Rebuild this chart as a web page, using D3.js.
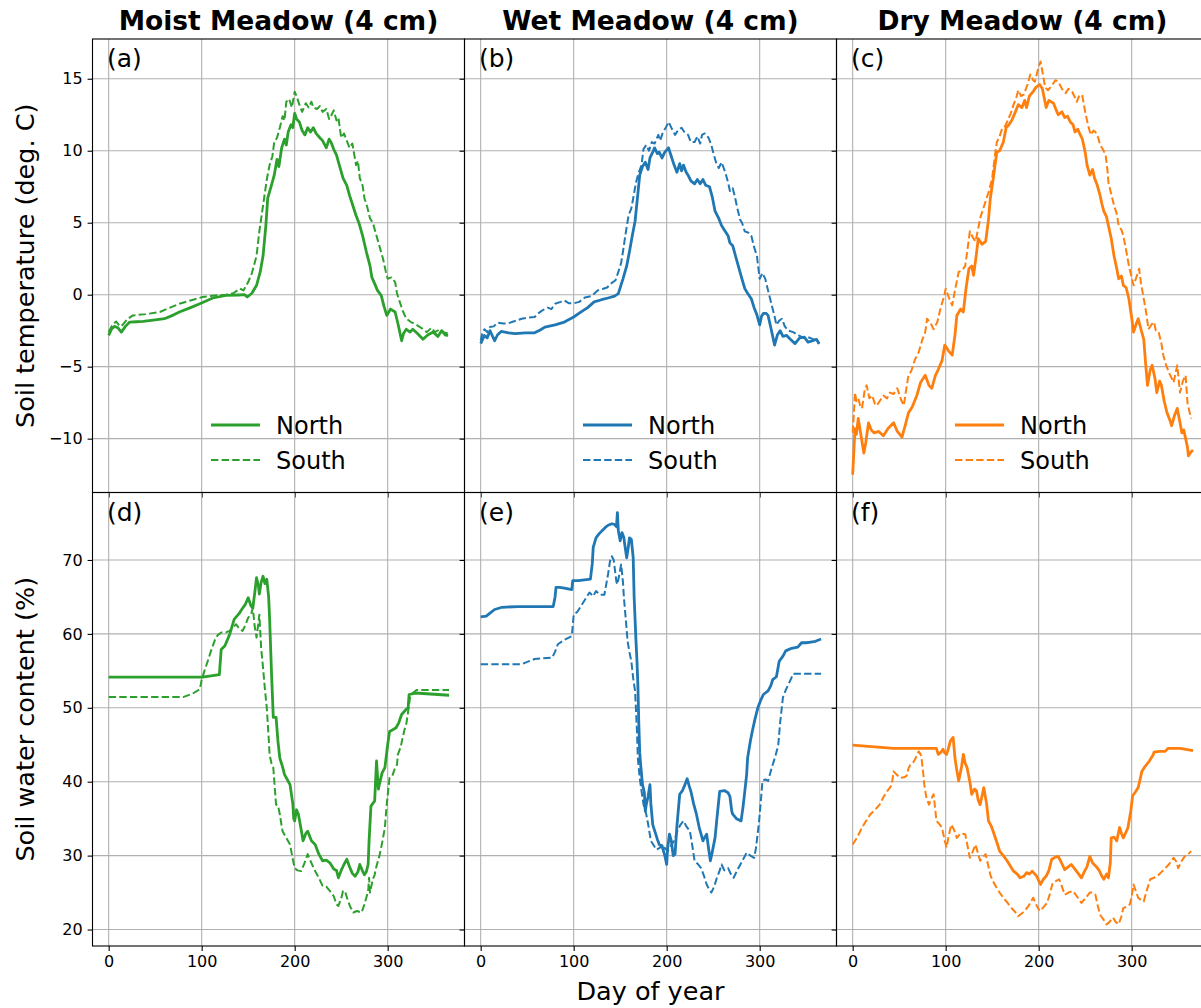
<!DOCTYPE html>
<html>
<head>
<meta charset="utf-8">
<script src="https://cdn.jsdelivr.net/npm/d3@7"></script>
<style>
  html, body { margin: 0; padding: 0; background: #fff; }
  svg { display: block; font-family: "DejaVu Sans", sans-serif; }
</style>
</head>
<body>
<svg id="chart" width="1201" height="1008"></svg>
<script>
// ---------------- DATA ----------------
const columnTitles = ["Moist Meadow (4 cm)", "Wet Meadow (4 cm)", "Dry Meadow (4 cm)"];
const seriesNames = ["North", "South"];
const panelLabels = [["(a)", "(b)", "(c)"], ["(d)", "(e)", "(f)"]];
const xTicks = [0, 100, 200, 300];
const tempTicks = [-10, -5, 0, 5, 10, 15];
const swcTicks = [20, 30, 40, 50, 60, 70];
const rowLabels = ["Soil temperature (deg. C)", "Soil water content (%)"];
const xLabel = "Day of year";

// [day, value] pairs
const moistTempNorth = [[0,-2.83],[3,-2.4],[6,-2.2],[10,-2.3],[13.6,-2.6],[18,-2.2],[22.6,-1.9],[30,-1.88],[37,-1.86],[50,-1.75],[60,-1.67],[70,-1.4],[76,-1.2],[88,-0.9],[98,-0.63],[112,-0.23],[126,-0.05],[140,-0.02],[146,0],[149,-0.16],[154,0.1],[159,0.65],[163,1.6],[166,2.7],[169,4.8],[171,6.7],[175,7.6],[178,8.3],[181,9.4],[183,8.9],[186,10.2],[189,10.8],[191,10.4],[193,11.3],[196,11.8],[198,11.6],[200,12.6],[202,12.2],[205,12.0],[208,11.4],[211,11.1],[214,11.6],[217,11.3],[220,11.6],[223,11.2],[227,10.9],[230,10.7],[234,10.2],[237,10.8],[239,10.6],[242,10.1],[245,9.7],[248,9.0],[252,8.1],[256,7.6],[259,6.9],[262,6.3],[266,5.5],[269,5.0],[273,4.1],[277,3.0],[281,2.0],[283,1.2],[286,0.77],[289,0.3],[293,-0.05],[296,-0.8],[299,-1.44],[303,-1.0],[308,-1.2],[311,-2.0],[315,-3.2],[317,-2.7],[320,-2.4],[324,-2.6],[327,-2.4],[332,-2.7],[338,-3.1],[343,-2.8],[349,-2.6],[354,-2.9],[358,-2.5],[362,-2.8],[365,-2.83]];
const moistTempSouth = [[0,-2.6],[4,-2.1],[8,-1.86],[12,-2.2],[15,-2.1],[20,-1.7],[26,-1.44],[40,-1.35],[55,-1.2],[66,-0.9],[76,-0.63],[88,-0.4],[101,-0.16],[115,-0.05],[126,0],[134,0.1],[141,0.42],[145,0.3],[150,0.88],[154,1.5],[159,2.7],[162,4.4],[166,6.2],[170,8.0],[173,9.0],[176,9.6],[178,10.6],[181,10.9],[184,11.6],[187,12.4],[189,12.1],[191,13.4],[194,13.6],[197,13.0],[200,14.1],[202,13.8],[205,13.2],[208,12.7],[212,13.3],[215,13.0],[218,13.4],[220,13.0],[224,12.9],[227,13.1],[230,12.7],[234,12.9],[237,12.2],[239,12.4],[242,12.8],[245,12.1],[247,12.3],[250,10.9],[253,11.2],[256,10.7],[259,10.2],[262,10.5],[266,9.0],[268,9.3],[270,8.1],[273,7.6],[275,6.7],[278,6.1],[281,5.3],[284,5.0],[288,4.1],[291,3.4],[295,2.5],[298,1.6],[300,1.1],[304,1.2],[308,0.88],[310,0.1],[313,-0.5],[316,-1.1],[320,-1.67],[325,-1.9],[331,-2.1],[336,-2.3],[342,-2.6],[347,-2.3],[351,-2.6],[356,-2.4],[360,-2.6],[365,-2.7]];

const wetTempNorth = [[0,-3.4],[4,-2.83],[7,-3.0],[10,-2.5],[15,-3.2],[18,-2.8],[22,-2.55],[30,-2.65],[37,-2.7],[48,-2.65],[58,-2.65],[64,-2.45],[69,-2.25],[80,-2.1],[90,-1.9],[100,-1.55],[108,-1.2],[115,-0.9],[122,-0.5],[130,-0.35],[137,-0.23],[144,-0.1],[148,0.07],[153,1.1],[157,2.0],[160,3.0],[163,4.1],[166,5.1],[169,7.0],[171,8.3],[174,8.9],[177,9.2],[180,8.7],[182,9.5],[185,9.9],[187,10.2],[190,9.8],[192,9.9],[195,9.5],[198,9.9],[202,10.2],[205,9.6],[208,9.0],[211,8.5],[214,9.1],[216,8.6],[218,9.0],[221,8.5],[223,8.3],[226,7.9],[230,7.7],[233,8.0],[236,7.7],[239,8.0],[242,7.6],[246,7.5],[249,6.8],[252,5.8],[256,5.3],[259,4.8],[262,4.5],[266,4.1],[268,3.6],[271,3.4],[274,2.7],[277,2.0],[280,1.3],[284,0.42],[287,0.1],[291,-0.28],[294,-0.9],[297,-1.4],[300,-2.1],[302,-1.5],[304,-1.3],[307,-1.3],[309,-1.44],[312,-2.3],[316,-3.5],[319,-2.8],[322,-2.5],[325,-2.9],[329,-2.83],[333,-3.1],[338,-3.4],[343,-3.0],[348,-2.95],[352,-3.3],[357,-3.2],[361,-3.1],[364,-3.4]];
const wetTempSouth = [[0,-3.2],[2,-2.6],[4,-2.4],[7,-2.6],[10,-2.25],[14,-2.2],[18,-1.95],[24,-2.0],[29,-2.0],[36,-1.85],[44,-1.67],[50,-1.6],[58,-1.55],[62,-1.3],[66,-1.1],[72,-0.9],[76,-1.0],[80,-0.63],[86,-0.5],[90,-0.4],[95,-0.6],[100,-0.6],[106,-0.5],[112,-0.2],[119,-0.1],[126,0.3],[131,0.4],[136,0.5],[140,0.77],[145,1.0],[148,1.58],[151,2.2],[153,3.0],[156,4.3],[159,5.5],[162,6.0],[164,6.7],[167,7.8],[170,8.5],[173,9.0],[175,10.1],[178,10.4],[181,10.0],[184,10.6],[187,10.5],[191,11.1],[193,10.7],[196,11.3],[199,11.6],[202,12.0],[205,11.6],[209,11.1],[212,11.4],[216,11.6],[219,11.3],[223,11.1],[226,10.6],[230,10.6],[233,11.0],[236,10.5],[238,11.1],[241,11.2],[245,10.9],[248,10.4],[250,9.9],[253,9.2],[256,8.8],[259,9.2],[263,8.5],[266,7.8],[268,7.2],[271,7.4],[273,6.9],[276,6.0],[279,5.2],[281,5.0],[284,4.4],[288,4.3],[291,4.1],[294,3.3],[297,2.7],[300,1.1],[303,1.5],[306,1.1],[309,0.3],[313,-0.74],[316,-1.5],[318,-2.1],[321,-1.8],[324,-1.67],[327,-2.2],[331,-2.5],[336,-2.6],[342,-2.83],[347,-3.0],[352,-2.95],[358,-3.1],[364,-3.4]];

const dryTempNorth = [[0,-12.5],[1.5,-10.6],[2.5,-9.3],[4,-9.7],[6,-8.6],[9,-9.8],[12,-11.0],[14,-10.3],[17,-8.9],[20,-9.4],[23,-9.6],[28,-9.5],[33,-9.8],[38,-9.3],[44,-8.9],[48,-9.5],[53,-9.9],[56,-9.2],[60,-8.2],[64,-7.8],[69,-7.0],[73,-6.1],[78,-5.6],[82,-6.3],[85,-6.5],[89,-5.6],[92,-5.2],[96,-4.6],[99,-3.5],[103,-3.9],[107,-4.2],[110,-2.8],[112,-1.44],[116,-1.0],[119,-1.2],[122,0.5],[125,1.8],[128,2.0],[130,1.35],[133,2.8],[135,3.9],[139,3.5],[143,3.7],[146,5.2],[148,6.7],[151,8.0],[155,9.9],[158,10.0],[162,10.6],[165,11.6],[168,11.8],[171,12.1],[175,12.7],[178,13.2],[182,13.0],[185,13.5],[187,13.0],[190,13.8],[194,14.1],[197,14.4],[201,14.6],[204,14.3],[208,13.0],[211,13.5],[216,13.3],[219,12.8],[221,12.5],[225,12.7],[228,12.3],[231,12.4],[234,12.0],[237,11.8],[239,11.3],[242,11.5],[244,11.2],[247,10.8],[250,9.9],[252,9.0],[255,8.3],[258,8.7],[260,8.1],[263,7.6],[266,6.9],[268,6.3],[270,5.8],[273,5.4],[275,4.8],[278,3.9],[281,2.7],[284,1.8],[286,1.1],[289,1.3],[291,0.65],[294,0.5],[297,-0.28],[300,-1.6],[302,-2.6],[305,-2.0],[307,-1.67],[310,-2.4],[313,-3.1],[315,-4.8],[317,-6.3],[320,-5.2],[322,-4.9],[325,-5.8],[327,-6.8],[330,-6.0],[332,-6.3],[335,-7.4],[338,-8.2],[341,-8.7],[343,-9.1],[346,-8.4],[349,-7.9],[352,-8.9],[354,-9.6],[356,-9.4],[358,-10.0],[360,-10.6],[361,-11.2],[364,-10.9],[366,-10.8]];
const dryTempSouth = [[0,-9.6],[1.5,-8.0],[2.5,-6.8],[4,-7.4],[6,-7.2],[8,-7.7],[10,-7.9],[13,-6.6],[15,-6.3],[18,-7.2],[21,-7.0],[24,-7.6],[26,-7.7],[30,-7.3],[33,-7.0],[37,-7.2],[40,-6.8],[44,-6.9],[48,-6.5],[52,-7.3],[55,-7.7],[57,-6.8],[60,-5.6],[63,-5.3],[67,-4.5],[71,-4.0],[75,-3.1],[78,-2.6],[80,-1.67],[84,-2.0],[87,-2.4],[91,-1.9],[95,-0.8],[98,-0.2],[100,0.42],[104,-0.3],[107,-0.74],[110,0.3],[114,1.58],[118,1.7],[121,2.0],[124,3.4],[126,4.4],[129,4.0],[132,3.7],[135,4.6],[137,5.3],[141,6.1],[144,6.7],[147,7.3],[150,8.1],[153,9.7],[155,10.6],[158,11.0],[161,11.6],[164,11.7],[166,12.0],[170,12.6],[173,13.2],[176,13.7],[178,14.2],[181,13.8],[184,13.9],[188,14.6],[191,15.3],[194,14.9],[196,14.8],[199,15.6],[202,16.2],[204,15.5],[207,14.4],[210,14.2],[214,14.5],[218,14.9],[221,14.8],[225,14.3],[229,14.0],[232,14.3],[236,14.1],[239,13.7],[241,13.4],[244,13.9],[247,13.8],[250,12.7],[253,11.8],[256,11.1],[259,11.4],[261,11.3],[264,10.9],[266,10.4],[269,10.1],[272,9.7],[274,8.6],[275,7.8],[278,7.0],[281,6.2],[284,5.6],[286,4.8],[289,4.5],[291,4.1],[294,3.1],[297,2.0],[300,1.2],[302,0.65],[305,1.2],[308,1.8],[310,0.8],[313,-0.28],[316,-1.4],[318,-2.4],[321,-2.1],[324,-1.9],[326,-2.5],[329,-2.6],[332,-3.4],[334,-4.2],[337,-4.9],[340,-5.4],[343,-5.8],[345,-6.1],[347,-5.5],[349,-4.9],[351,-6.2],[352,-6.8],[355,-6.0],[358,-5.6],[360,-7.5],[362,-8.1],[364,-8.6]];

const moistSwcNorth = [[0,54.16],[101,54.16],[119,54.5],[121,57.9],[125,58.4],[130,59.9],[135,62.0],[140,62.7],[143,63.3],[147,64.0],[150,64.9],[153,63.8],[155,63.5],[157,65.5],[159,67.6],[161,66.5],[162,65.4],[164,67.0],[166,67.8],[168,66.8],[170,67.4],[172,65.0],[173,62.2],[175,55.0],[177,48.7],[180,48.7],[182,45.5],[184,43.2],[187,42.0],[189,41.0],[192,40.3],[195,39.6],[198,37.0],[199,35.0],[200,34.7],[202,36.2],[204,35.6],[207,33.5],[209,32.0],[212,33.0],[214,33.3],[218,32.0],[222,31.5],[226,30.2],[230,29.3],[234,29.4],[238,29.0],[242,28.2],[245,28.0],[247,27.0],[250,28.0],[253,28.8],[256,29.5],[259,28.5],[262,27.6],[265,27.2],[268,27.8],[270,28.8],[273,27.9],[275,27.4],[277,27.8],[279,28.8],[280,32.0],[282,36.7],[286,37.4],[288,42.8],[290,39.0],[291,39.6],[294,41.2],[297,41.9],[300,45.0],[302,46.8],[305,47.0],[309,47.3],[312,48.0],[315,49.1],[320,49.8],[322,50.0],[323,51.8],[330,52.0],[342,51.9],[366,51.7]];
const moistSwcSouth = [[0,51.45],[80,51.45],[90,51.9],[98,52.5],[100,53.8],[103,55.0],[107,56.5],[110,57.7],[114,59.1],[117,59.8],[121,60.2],[126,60.2],[130,60.4],[133,60.8],[137,61.3],[140,60.8],[144,60.4],[147,61.2],[150,62.2],[153,62.6],[155,63.5],[157,61.0],[159,59.5],[161,61.5],[162,62.6],[164,58.0],[166,55.4],[168,52.5],[170,50.0],[172,46.0],[173,43.7],[175,42.5],[177,41.9],[179,38.5],[180,36.9],[182,36.8],[184,35.6],[186,34.0],[187,33.3],[191,32.4],[195,31.5],[198,29.5],[200,28.3],[203,28.0],[207,27.9],[210,28.8],[214,30.2],[218,29.0],[222,27.9],[226,27.0],[230,25.9],[234,25.8],[238,25.2],[242,24.5],[245,23.4],[247,23.2],[250,24.2],[252,25.2],[254,25.2],[257,24.0],[260,23.0],[263,22.3],[267,22.5],[272,22.3],[275,23.4],[279,25.2],[280,27.0],[281,25.0],[282,25.6],[284,26.8],[286,27.4],[288,28.6],[291,29.9],[294,31.7],[297,33.8],[299,37.0],[302,40.5],[305,40.8],[308,41.9],[310,42.3],[311,43.7],[314,44.7],[316,45.9],[318,47.0],[320,47.8],[322,49.5],[324,51.4],[327,52.0],[331,52.4],[366,52.4]];

const wetSwcNorth = [[0,62.3],[6,62.4],[10,62.8],[15,63.3],[23,63.6],[40,63.7],[78,63.7],[80,65.0],[81,66.3],[85,66.3],[90,66.2],[98,66.0],[99,67.2],[105,67.2],[118,67.4],[120,69.5],[121,71.7],[124,73.0],[127,73.5],[130,73.9],[134,74.4],[137,74.7],[141,74.9],[144,74.8],[146,74.5],[147,76.4],[148,74.0],[150,72.6],[152,73.7],[154,73.0],[155,72.0],[157,70.3],[159,72.0],[160,73.0],[162,72.8],[164,70.3],[165,65.0],[167,59.0],[168,56.5],[169,53.2],[170,48.0],[171,44.0],[172,42.3],[174,39.6],[176,38.5],[177,36.0],[178,36.9],[180,38.0],[182,39.6],[183,37.0],[185,34.2],[188,33.0],[190,32.2],[192,31.5],[195,31.3],[198,30.0],[200,28.8],[201,31.0],[203,32.9],[205,32.0],[207,30.0],[209,30.2],[211,34.0],[214,38.3],[217,38.8],[219,39.4],[222,40.4],[224,39.5],[226,38.7],[229,37.0],[232,35.6],[235,33.8],[239,32.0],[241,32.5],[243,32.9],[245,31.0],[247,29.3],[249,30.5],[252,32.4],[254,35.0],[257,38.7],[262,38.8],[266,38.5],[268,38.0],[270,36.0],[271,35.6],[275,35.0],[280,34.7],[282,36.5],[284,38.7],[286,41.0],[287,43.2],[290,45.5],[292,46.8],[295,48.5],[298,50.0],[301,51.0],[304,51.8],[306,52.0],[309,52.3],[312,53.0],[314,53.8],[318,54.2],[321,56.3],[325,57.0],[328,57.7],[333,58.0],[337,58.1],[341,58.2],[345,58.8],[350,58.8],[355,58.9],[360,59.0],[366,59.3]];
const wetSwcSouth = [[0,55.9],[44,55.9],[58,56.6],[77,56.8],[80,57.6],[83,58.6],[90,59.2],[98,59.7],[100,62.6],[104,63.0],[108,63.8],[113,64.8],[117,65.6],[121,65.1],[124,65.8],[128,65.3],[133,65.3],[137,68.1],[139,69.8],[141,70.5],[143,70.0],[144,69.0],[146,67.0],[147,66.7],[149,68.0],[151,69.4],[153,67.0],[154,64.9],[156,62.0],[158,59.0],[160,57.5],[162,56.3],[164,54.0],[166,52.3],[168,47.0],[169,43.2],[171,40.5],[173,38.7],[175,37.0],[178,35.6],[180,34.3],[183,32.0],[186,31.4],[189,30.8],[192,31.0],[196,31.5],[198,31.0],[201,30.6],[204,31.2],[208,32.0],[212,33.5],[215,34.2],[218,34.7],[221,34.0],[225,33.3],[228,31.0],[230,29.3],[234,28.8],[237,28.3],[240,27.3],[243,26.1],[245,25.6],[248,25.0],[251,25.8],[254,27.0],[257,28.0],[259,28.8],[262,28.0],[266,28.3],[269,27.5],[272,27.0],[275,27.8],[277,28.3],[281,29.2],[286,30.4],[290,30.0],[294,29.7],[296,31.0],[299,34.2],[301,37.0],[303,40.1],[306,40.3],[309,40.1],[311,41.0],[313,41.9],[317,43.5],[320,45.0],[322,48.0],[325,51.4],[328,52.4],[331,53.2],[334,54.0],[336,54.6],[366,54.6]];

const drySwcNorth = [[0,44.95],[44,44.5],[90,44.5],[92,43.7],[95,44.0],[97,44.4],[99,43.9],[101,43.7],[103,44.5],[105,45.5],[108,46.0],[110,43.2],[112,41.5],[114,40.1],[117,42.0],[119,43.7],[121,42.5],[123,41.9],[126,40.0],[128,38.3],[131,39.0],[133,38.8],[135,37.5],[137,36.9],[139,38.0],[141,39.2],[144,37.0],[146,34.7],[149,34.0],[151,33.3],[155,31.8],[158,30.6],[162,30.0],[166,29.3],[170,28.5],[173,27.9],[177,27.5],[180,27.0],[184,27.2],[187,27.7],[190,27.5],[193,27.9],[196,27.5],[198,27.2],[200,26.6],[202,26.1],[205,26.8],[208,27.2],[211,28.0],[214,29.5],[218,29.8],[221,29.9],[225,28.9],[228,28.1],[232,28.5],[235,28.8],[240,28.0],[243,27.5],[246,27.0],[249,27.8],[252,28.5],[255,29.9],[258,29.0],[262,28.5],[265,28.0],[268,27.2],[270,26.8],[273,27.5],[275,27.0],[277,29.0],[278,32.4],[281,32.5],[284,32.0],[287,33.8],[289,33.0],[291,32.4],[294,33.2],[296,33.8],[299,36.0],[301,38.1],[304,38.6],[307,39.2],[309,40.3],[311,41.4],[314,42.0],[316,42.3],[319,42.8],[321,43.2],[323,43.6],[324,44.0],[330,44.1],[336,44.1],[339,44.5],[352,44.5],[366,44.2]];
const drySwcSouth = [[0,31.5],[5,32.5],[10,33.8],[15,34.8],[19,35.6],[24,36.2],[29,36.9],[33,37.9],[37,38.7],[40,39.2],[42,39.6],[44,41.4],[47,41.0],[51,40.5],[55,40.6],[58,40.8],[60,41.8],[62,42.3],[65,42.6],[67,43.0],[69,43.6],[71,44.1],[73,43.7],[74,43.2],[76,41.0],[77,39.6],[79,38.0],[82,36.9],[85,37.8],[87,38.3],[89,36.0],[90,34.7],[93,34.3],[96,33.8],[99,32.0],[101,31.1],[103,32.5],[106,34.2],[109,33.5],[112,32.4],[116,33.0],[121,32.9],[124,31.0],[126,29.7],[129,30.5],[132,31.5],[135,30.2],[137,29.3],[140,29.8],[143,30.2],[146,28.5],[148,27.4],[151,26.5],[155,25.6],[158,25.0],[162,24.3],[166,23.7],[169,23.2],[173,22.6],[176,22.2],[178,21.8],[182,22.2],[185,22.5],[189,23.2],[191,23.6],[194,24.3],[198,23.2],[201,22.5],[205,23.0],[209,23.6],[212,24.8],[215,26.3],[218,26.5],[222,26.8],[225,25.8],[228,24.7],[232,25.0],[237,25.2],[241,24.5],[246,23.6],[250,24.2],[255,25.0],[258,25.0],[261,24.7],[263,23.5],[266,22.0],[270,21.3],[273,20.7],[276,21.0],[280,21.6],[283,21.0],[286,20.7],[289,21.8],[291,22.9],[295,23.1],[298,23.4],[300,24.5],[302,26.1],[305,25.0],[307,24.3],[310,24.0],[313,23.8],[316,25.2],[320,26.8],[324,27.0],[329,27.4],[333,27.9],[336,28.3],[340,28.8],[345,29.7],[348,29.2],[350,28.3],[354,29.3],[357,29.9],[361,30.2],[364,30.6]];

const tempData = [[moistTempNorth, moistTempSouth], [wetTempNorth, wetTempSouth], [dryTempNorth, dryTempSouth]];
const swcData = [[moistSwcNorth, moistSwcSouth], [wetSwcNorth, wetSwcSouth], [drySwcNorth, drySwcSouth]];
const colors = ["#2ca02c", "#1f77b4", "#ff7f0e"];

// ---------------- LAYOUT ----------------
const svg = d3.select("#chart");
const left0 = 92.5, colW = 372, top0 = 39, rowH = 453.5;
const tickLen = 4.9, tickPad = 4.9;
const fontTick = 16;

const x = d3.scaleLinear().domain([-17.4, 382.6]).range([0, colW]);
const yScales = [
  d3.scaleLinear().domain([-13.74, 17.76]).range([rowH, 0]),
  d3.scaleLinear().domain([17.77, 79.13]).range([rowH, 0])
];
const yTicks = [tempTicks, swcTicks];
const rowData = [tempData, swcData];
const fmt = v => (v < 0 ? "\u2212" + Math.abs(v) : String(v));

const defs = svg.append("defs");
defs.append("clipPath").attr("id", "clipPanel")
  .append("rect").attr("x", 0).attr("y", 0).attr("width", colW).attr("height", rowH);

for (let r = 0; r < 2; r++) {
  for (let c = 0; c < 3; c++) {
    const y = yScales[r];
    const g = svg.append("g").attr("transform", `translate(${left0 + c * colW},${top0 + r * rowH})`);

    // grid
    g.append("g").selectAll("line").data(xTicks).join("line")
      .attr("x1", d => x(d)).attr("x2", d => x(d))
      .attr("y1", 0).attr("y2", rowH)
      .attr("stroke", "#b0b0b0").attr("stroke-width", 1.1);
    g.append("g").selectAll("line").data(yTicks[r]).join("line")
      .attr("x1", 0).attr("x2", colW)
      .attr("y1", d => y(d)).attr("y2", d => y(d))
      .attr("stroke", "#b0b0b0").attr("stroke-width", 1.1);

    // lines
    const line = d3.line().x(d => x(d[0])).y(d => y(d[1]));
    const lg = g.append("g").attr("clip-path", "url(#clipPanel)");
    const pair = rowData[r][c];
    lg.append("path").datum(pair[0]).attr("d", line)
      .attr("fill", "none").attr("stroke", colors[c]).attr("stroke-width", 2.8)
      .attr("stroke-linejoin", "round").attr("stroke-linecap", "butt");
    lg.append("path").datum(pair[1]).attr("d", line)
      .attr("fill", "none").attr("stroke", colors[c]).attr("stroke-width", 2.0)
      .attr("stroke-dasharray", "7.4,3.2").attr("stroke-linejoin", "round");

    // axes
    const yAxis = d3.axisLeft(y).tickValues(yTicks[r]).tickSize(tickLen).tickPadding(tickPad)
      .tickFormat(c === 0 ? fmt : () => "");
    const ya = g.append("g").call(yAxis);
    const xAxis = d3.axisBottom(x).tickValues(xTicks).tickSize(tickLen).tickPadding(tickPad)
      .tickFormat(r === 1 ? d => String(d) : () => "");
    const xa = g.append("g").attr("transform", `translate(0,${rowH})`).call(xAxis);
    [ya, xa].forEach(a => {
      a.select(".domain").remove();
      a.selectAll(".tick line").attr("stroke", "#000").attr("stroke-width", 1.1);
      a.selectAll(".tick text").attr("fill", "#000")
        .style("font-family", "DejaVu Sans").style("font-size", fontTick + "px");
    });

    // frame
    g.append("rect").attr("x", 0).attr("y", 0).attr("width", colW).attr("height", rowH)
      .attr("fill", "none").attr("stroke", "#000").attr("stroke-width", 1.1);

    // panel label
    g.append("text").attr("x", 14.5).attr("y", 28).text(panelLabels[r][c])
      .style("font-size", "25px").attr("fill", "#000");

    // legend (top row)
    if (r === 0) {
      const leg = g.append("g").attr("transform", "translate(118.5,386)");
      seriesNames.forEach((nm, i) => {
        leg.append("line").attr("x1", 0).attr("x2", 49)
          .attr("y1", i * 35).attr("y2", i * 35)
          .attr("stroke", colors[c]).attr("stroke-width", i === 0 ? 2.8 : 2.0)
          .attr("stroke-dasharray", i === 0 ? null : "7.4,3.2");
        leg.append("text").attr("x", 65).attr("y", i * 35 + 8.5).text(nm)
          .style("font-size", "24px").attr("fill", "#000");
      });
    }
  }
}

// column titles
columnTitles.forEach((t, c) => {
  svg.append("text").attr("x", left0 + c * colW + colW / 2).attr("y", 30)
    .attr("text-anchor", "middle").style("font-size", "26.5px").style("font-weight", "bold")
    .text(t);
});

// row labels
rowLabels.forEach((t, r) => {
  svg.append("text")
    .attr("transform", `translate(34,${top0 + r * rowH + rowH / 2}) rotate(-90)`)
    .attr("text-anchor", "middle").style("font-size", "25.5px").text(t);
});

// x label
svg.append("text").attr("x", left0 + colW * 1.5).attr("y", 1000)
  .attr("text-anchor", "middle").style("font-size", "25.5px").text(xLabel);
</script>
</body>
</html>
